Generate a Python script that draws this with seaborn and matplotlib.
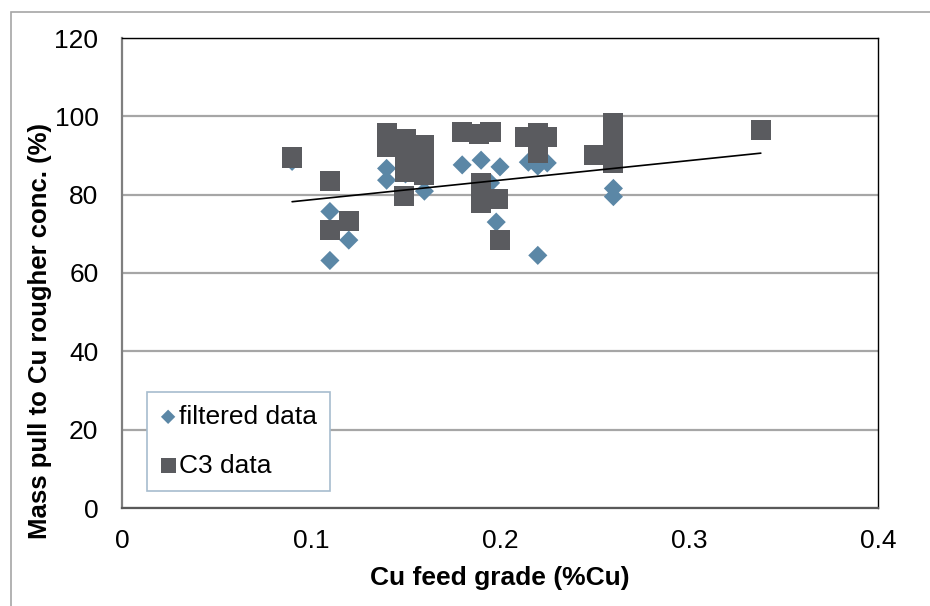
import matplotlib
matplotlib.use("Agg")
import matplotlib.pyplot as plt
import seaborn as sns
import pandas as pd
from matplotlib.patches import Rectangle

# filtered data (Cu feed grade, mass pull)
filt_grade = [0.09, 0.11, 0.11, 0.12, 0.14, 0.14, 0.15, 0.16, 0.18, 0.19,
              0.195, 0.20, 0.198, 0.22, 0.215, 0.22, 0.225, 0.26, 0.26]
filt_pull = [88.5, 75.7, 63.2, 68.4, 86.7, 83.7, 85.3, 80.9, 87.6, 88.8,
             83.0, 87.1, 73.0, 64.5, 88.3, 87.3, 88.1, 81.6, 79.5]

# C3 data
c3_grade = [0.09, 0.11, 0.11, 0.12, 0.14, 0.14, 0.15, 0.15, 0.15, 0.15,
            0.149, 0.16, 0.16, 0.16, 0.18, 0.189, 0.195, 0.19, 0.19, 0.199,
            0.20, 0.213, 0.22, 0.22, 0.225, 0.25, 0.26, 0.26, 0.26, 0.26,
            0.26, 0.338]
c3_pull = [89.5, 83.5, 71.0, 73.2, 95.7, 92.3, 94.3, 91.0, 88.0, 85.8,
           79.6, 92.7, 89.0, 85.0, 96.1, 95.5, 96.0, 83.0, 78.0, 79.0,
           68.4, 94.8, 95.7, 90.6, 94.8, 90.2, 98.3, 95.0, 92.0, 89.5,
           88.0, 96.5]

# linear trendline end points
trend_grade = [0.09, 0.338]
trend_pull = [78.2, 90.6]

x_ticks = [0, 0.1, 0.2, 0.3, 0.4]
x_tick_labels = ["0", "0.1", "0.2", "0.3", "0.4"]
y_ticks = [0, 20, 40, 60, 80, 100, 120]

sns.set_theme(style="white")
plt.rcParams["font.family"] = ["Liberation Sans", "DejaVu Sans"]

fig = plt.figure(figsize=(9.3, 6.06), dpi=100)
ax = fig.add_axes([122 / 930, 1 - 508 / 606, 756 / 930, 470 / 606])

# outer chart border
fig.patches.append(Rectangle((11 / 930, -0.05), 1.2, 1 - 12 / 606 + 0.05,
                             transform=fig.transFigure, fill=False,
                             edgecolor="#A6A6A6", lw=1.2))

df_f = pd.DataFrame({"grade": filt_grade, "pull": filt_pull})
df_c = pd.DataFrame({"grade": c3_grade, "pull": c3_pull})

sns.scatterplot(data=df_f, x="grade", y="pull", ax=ax, marker="D", s=95,
                color="#5B87A6", edgecolor="none", linewidth=0,
                label="filtered data", zorder=3)
sns.scatterplot(data=df_c, x="grade", y="pull", ax=ax, marker="s", s=210,
                color="#5A5B5F", edgecolor="none", linewidth=0,
                label="C3 data", zorder=4)
sns.lineplot(x=trend_grade, y=trend_pull, ax=ax, color="black", lw=1.2,
             zorder=5, legend=False)

ax.set_xlim(0, 0.4)
ax.set_ylim(0, 120)
ax.set_xticks(x_ticks)
ax.set_xticklabels(x_tick_labels)
ax.set_yticks(y_ticks)
ax.tick_params(axis="y", length=0, labelsize=19, colors="black", pad=17)
ax.tick_params(axis="x", length=0, labelsize=19, colors="black", pad=15)
ax.grid(axis="y", color="#A6A6A6", lw=1.6)
ax.set_axisbelow(True)
for side in ["top", "right"]:
    ax.spines[side].set_color("black")
    ax.spines[side].set_linewidth(1.0)
ax.spines["left"].set_color("#7F7F7F")
ax.spines["left"].set_linewidth(1.6)
ax.spines["bottom"].set_color("#595959")
ax.spines["bottom"].set_linewidth(1.6)

ax.set_xlabel("Cu feed grade (%Cu)", fontsize=19, fontweight="bold",
              color="black")
ax.xaxis.set_label_coords(0.5, -(578 - 508) / 470)
ax.set_ylabel("Mass pull to Cu rougher conc. (%)", fontsize=18.5,
              fontweight="bold", color="black")
ax.yaxis.set_label_coords(-(122 - 40) / 756, (508 - 331) / 470)
ax.xaxis.label.set_va("center")
ax.yaxis.label.set_va("center")

leg = ax.legend(loc="lower left", bbox_to_anchor=(25 / 756, 17 / 470),
                fontsize=19, frameon=True, fancybox=False, handlelength=0.6,
                handletextpad=0.1, labelspacing=0.95, borderpad=0.5,
                markerscale=0.75, borderaxespad=0)
for t in leg.get_texts():
    t.set_color("black")
leg.get_frame().set_edgecolor("#A7BCCE")
leg.get_frame().set_linewidth(1.2)
leg.get_frame().set_facecolor("white")
leg.get_frame().set_alpha(1)

fig.savefig("out.png", dpi=100)
